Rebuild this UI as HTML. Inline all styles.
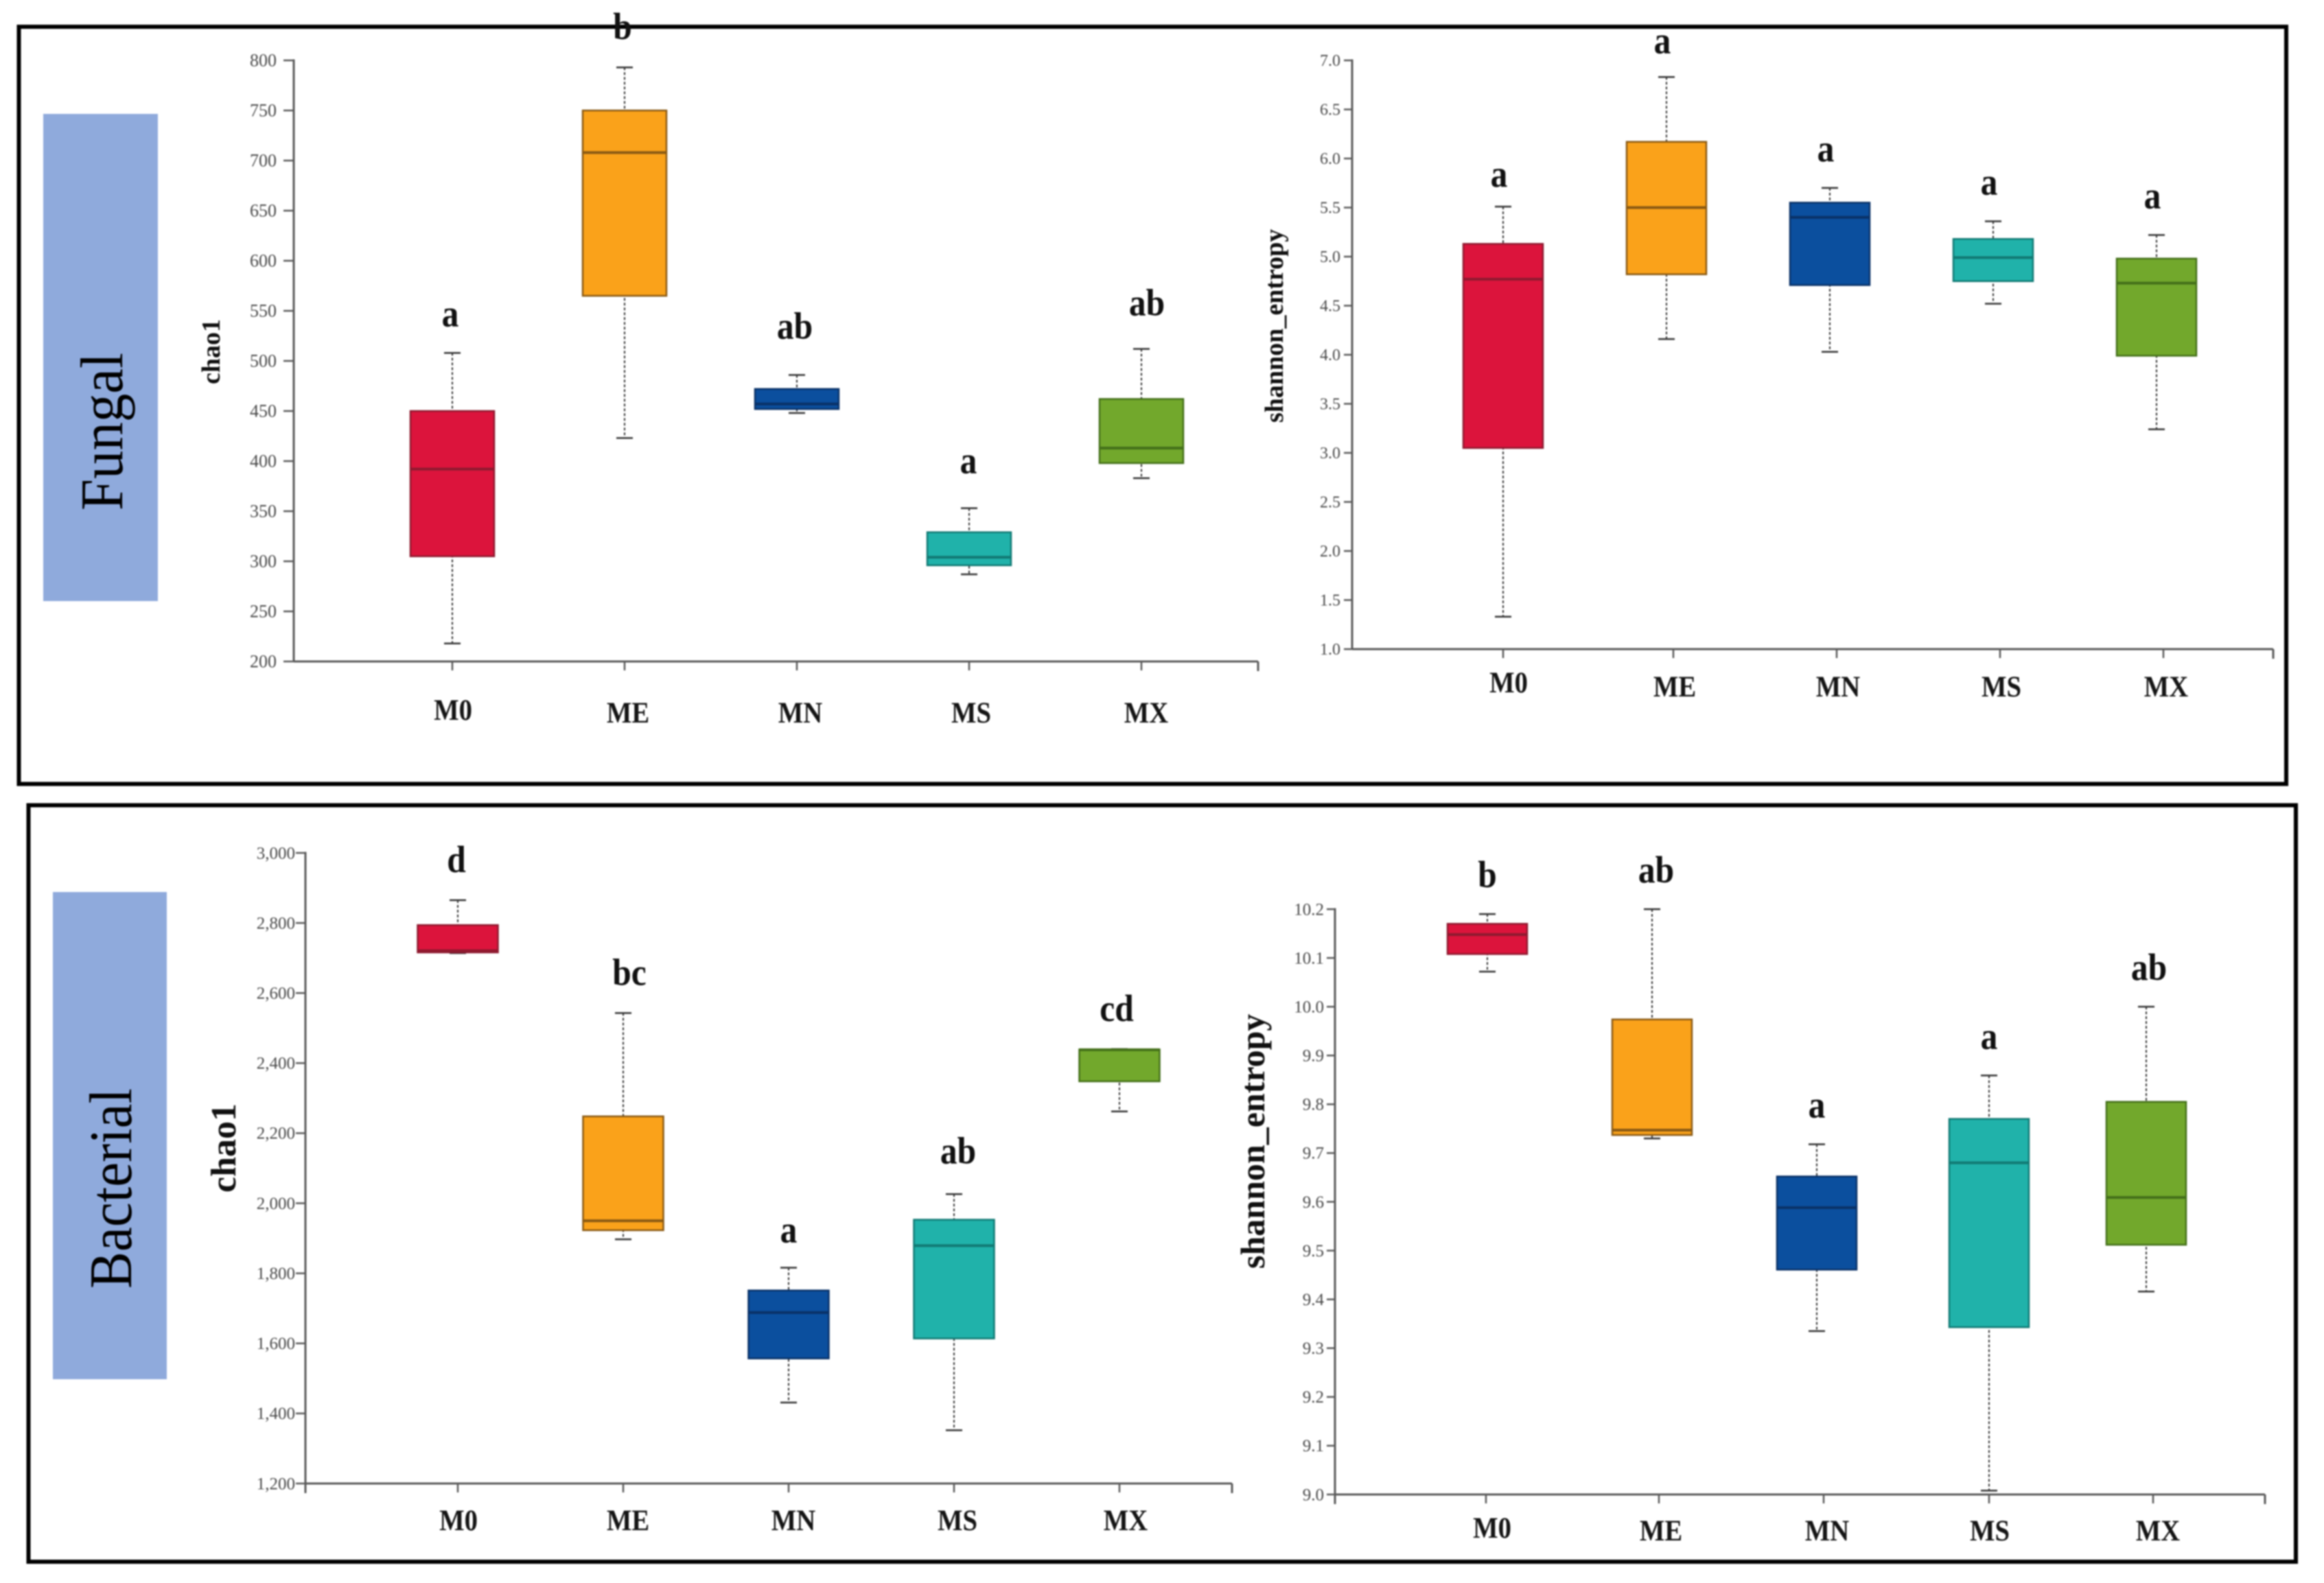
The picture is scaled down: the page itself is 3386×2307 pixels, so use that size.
<!DOCTYPE html>
<html lang="en">
<head>
<meta charset="utf-8">
<title>Fungal and bacterial alpha diversity box plots</title>
<style>
  html, body { margin: 0; padding: 0; background: #fff; }
  body { width: 3386px; height: 2307px; overflow: hidden; }
  svg { display: block; filter: blur(1.1px); }
  text { font-family: "Liberation Serif", serif; }
</style>
</head>
<body>
<svg id="figure" xmlns="http://www.w3.org/2000/svg" width="3386" height="2307" viewBox="0 0 3386 2307">
  <rect x="0" y="0" width="3386" height="2307" fill="#ffffff"/>
  <rect x="27.5" y="39" width="3303.5" height="1103.5" fill="none" stroke="#000" stroke-width="6"/>
  <rect x="41.5" y="1173.5" width="3303.5" height="1102.5" fill="none" stroke="#000" stroke-width="6"/>
  <rect x="63" y="166" width="167" height="710" fill="#8faadc"/>
  <text transform="translate(178,744) rotate(-90)" font-size="88" textLength="230" lengthAdjust="spacingAndGlyphs" fill="#000">Fungal</text>
  <rect x="77" y="1300" width="166" height="710" fill="#8faadc"/>
  <text transform="translate(191,1878) rotate(-90)" font-size="88" textLength="292" lengthAdjust="spacingAndGlyphs" fill="#000">Bacterial</text>
  <text transform="translate(320,560) rotate(-90)" font-size="38" font-weight="bold" fill="#111">chao1</text>
  <text transform="translate(1869,616) rotate(-90)" font-size="38" font-weight="bold" fill="#111">shannon_entropy</text>
  <text transform="translate(343,1738) rotate(-90)" font-size="52" font-weight="bold" fill="#111">chao1</text>
  <text transform="translate(1842,1849) rotate(-90)" font-size="50" font-weight="bold" fill="#111">shannon_entropy</text>
</svg>
<script>
const categories = ['M0', 'ME', 'MN', 'MS', 'MX'];
const boxFill = ['#dc143c', '#faa21a', '#0b4f9e', '#20b2aa', '#72a82c'];
const boxEdge = ['#8f1a30', '#8a5a14', '#0a3268', '#127a74', '#44701a'];

const fungalChaoYTicks = [200, 250, 300, 350, 400, 450, 500, 550, 600, 650, 700, 750, 800];
const fungalChaoYTickLabels = ['200', '250', '300', '350', '400', '450', '500', '550', '600', '650', '700', '750', '800'];
const fungalChaoWhiskerHigh = [508, 793, 486, 353, 512];
const fungalChaoQ3 = [450, 750, 472, 329, 462];
const fungalChaoMedian = [392, 708, 457, 304, 413];
const fungalChaoQ1 = [305, 565, 452, 296, 398];
const fungalChaoWhiskerLow = [218, 423, 448, 287, 383];
const fungalChaoLetters = ['a', 'b', 'ab', 'a', 'ab'];

const fungalShannonYTicks = [1, 1.5, 2, 2.5, 3, 3.5, 4, 4.5, 5, 5.5, 6, 6.5, 7];
const fungalShannonYTickLabels = ['1.0', '1.5', '2.0', '2.5', '3.0', '3.5', '4.0', '4.5', '5.0', '5.5', '6.0', '6.5', '7.0'];
const fungalShannonWhiskerHigh = [5.51, 6.83, 5.70, 5.36, 5.22];
const fungalShannonQ3 = [5.13, 6.17, 5.55, 5.18, 4.98];
const fungalShannonMedian = [4.77, 5.50, 5.40, 4.99, 4.73];
const fungalShannonQ1 = [3.05, 4.82, 4.71, 4.75, 3.99];
const fungalShannonWhiskerLow = [1.33, 4.16, 4.03, 4.52, 3.24];
const fungalShannonLetters = ['a', 'a', 'a', 'a', 'a'];

const bacterialChaoYTicks = [1200, 1400, 1600, 1800, 2000, 2200, 2400, 2600, 2800, 3000];
const bacterialChaoYTickLabels = ['1,200', '1,400', '1,600', '1,800', '2,000', '2,200', '2,400', '2,600', '2,800', '3,000'];
const bacterialChaoWhiskerHigh = [2865, 2543, 1816, 2026, 2440];
const bacterialChaoQ3 = [2794, 2248, 1751, 1953, 2439];
const bacterialChaoMedian = [2721, 1950, 1688, 1879, 2438];
const bacterialChaoQ1 = [2716, 1923, 1557, 1614, 2348];
const bacterialChaoWhiskerLow = [2714, 1897, 1431, 1352, 2262];
const bacterialChaoLetters = ['d', 'bc', 'a', 'ab', 'cd'];

const bacterialShannonYTicks = [9, 9.1, 9.2, 9.3, 9.4, 9.5, 9.6, 9.7, 9.8, 9.9, 10, 10.1, 10.2];
const bacterialShannonYTickLabels = ['9.0', '9.1', '9.2', '9.3', '9.4', '9.5', '9.6', '9.7', '9.8', '9.9', '10.0', '10.1', '10.2'];
const bacterialShannonWhiskerHigh = [10.19, 10.2, 9.718, 9.859, 10.0];
const bacterialShannonQ3 = [10.17, 9.974, 9.652, 9.77, 9.805];
const bacterialShannonMedian = [10.148, 9.747, 9.588, 9.68, 9.609];
const bacterialShannonQ1 = [10.108, 9.737, 9.461, 9.343, 9.512];
const bacterialShannonWhiskerLow = [10.072, 9.73, 9.335, 9.008, 9.416];
const bacterialShannonLetters = ['b', 'ab', 'a', 'a', 'ab'];

const SVG_NS = 'http://www.w3.org/2000/svg';
const figure = document.getElementById('figure');

function make(parent, tag, attrs, content) {
  const el = document.createElementNS(SVG_NS, tag);
  for (const key in attrs) el.setAttribute(key, attrs[key]);
  if (content !== undefined) el.textContent = content;
  parent.appendChild(el);
  return el;
}

function drawBoxChart(prefix, layout, data) {
  const domainMin = Math.min.apply(null, data.yTicks);
  const domainMax = Math.max.apply(null, data.yTicks);
  const yScale = function (v) {
    return layout.bottom - (v - domainMin) / (domainMax - domainMin) * (layout.bottom - layout.top);
  };
  const boxX = function (i) {
    return layout.firstBox + i * layout.step + layout.boxNudge[i];
  };
  const tickX = function (i) {
    return layout.firstBox + i * layout.step + layout.tickNudge[i];
  };

  const chart = make(figure, 'g', {});
  
  

  const yAxis = make(chart, 'line', { x1: layout.axisX, x2: layout.axisX, y1: layout.top - 1.5, y2: layout.bottom + layout.cornerDrop, stroke: '#5a5a5a', 'stroke-width': 3 });
  
  

  const xAxis = make(chart, 'line', { x1: layout.axisX, x2: layout.right, y1: layout.bottom, y2: layout.bottom, stroke: '#5a5a5a', 'stroke-width': 3 });
  
  

  const xEnd = make(chart, 'line', { x1: layout.right, x2: layout.right, y1: layout.bottom, y2: layout.bottom + 14, stroke: '#5a5a5a', 'stroke-width': 3 });
  
  

  data.yTicks.forEach(function (value, i) {
    const y = yScale(value);
    const tick = make(chart, 'line', { x1: layout.axisX - layout.tickLen, x2: layout.axisX, y1: y, y2: y, stroke: '#5a5a5a', 'stroke-width': 2.5 });
    
    
    const label = make(chart, 'text', { x: layout.axisX - layout.labelGap, y: y + layout.yFont * 0.33, 'text-anchor': 'end', 'font-size': layout.yFont, fill: '#4a4a4a' }, data.yTickLabels[i]);
    
    
  });

  categories.forEach(function (category, i) {
    const tx = tickX(i);
    const tick = make(chart, 'line', { x1: tx, x2: tx, y1: layout.bottom, y2: layout.bottom + 13, stroke: '#5a5a5a', 'stroke-width': 2.5 });
    
    
    const catX = tx + layout.catDx + layout.catNudgeX[i];
    const catY = layout.catY + layout.catNudgeY[i];
    const label = make(chart, 'text', { transform: 'translate(' + catX + ',' + catY + ') scale(0.9,1)', 'text-anchor': 'middle', 'font-size': 43, 'font-weight': 'bold', fill: '#151515' }, category);
    
    

    const x = boxX(i);
    const id = prefix + '-' + category.toLowerCase();
    const whisker = make(chart, 'line', { x1: x, x2: x, y1: yScale(data.whiskerHigh[i]), y2: yScale(data.whiskerLow[i]), stroke: '#333', 'stroke-width': 2, 'stroke-dasharray': '4 3' });
    
    

    const capHigh = make(chart, 'line', { x1: x - 12, x2: x + 12, y1: yScale(data.whiskerHigh[i]), y2: yScale(data.whiskerHigh[i]), stroke: '#333', 'stroke-width': 2.5 });
    
    

    const capLow = make(chart, 'line', { x1: x - 12, x2: x + 12, y1: yScale(data.whiskerLow[i]), y2: yScale(data.whiskerLow[i]), stroke: '#333', 'stroke-width': 2.5 });
    
    

    const box = make(chart, 'rect', { x: x - layout.boxW / 2, y: yScale(data.q3[i]), width: layout.boxW, height: yScale(data.q1[i]) - yScale(data.q3[i]), fill: boxFill[i], stroke: boxEdge[i], 'stroke-width': 2.5 });
    
    

    const median = make(chart, 'line', { x1: x - layout.boxW / 2, x2: x + layout.boxW / 2, y1: yScale(data.median[i]), y2: yScale(data.median[i]), stroke: boxEdge[i], 'stroke-width': 4 });
    
    

    const letterX = x + layout.letterDx + layout.letterNudgeX[i];
    const letterY = yScale(data.whiskerHigh[i]) - layout.letterGap + 13 + layout.letterNudgeY[i];
    const letter = make(chart, 'text', { transform: 'translate(' + letterX + ',' + letterY + ') scale(0.9,1)', 'text-anchor': 'middle', 'font-size': 55, 'font-weight': 'bold', fill: '#111' }, data.letters[i]);
    
    
  });
}

drawBoxChart('fungal-chao1',
  { axisX: 428, right: 1833, top: 88, bottom: 964, firstBox: 659, step: 251, boxW: 122, tickLen: 15, labelGap: 25, yFont: 26, catY: 1053, catDx: 3, letterGap: 60, letterDx: -3, cornerDrop: 0, boxNudge: [0, 0, 0, 0, 0], tickNudge: [0, 0, 0, 0, 0], catNudgeX: [-2, 2, 2, 0, 4], catNudgeY: [-4, 0, 0, 0, 0], letterNudgeX: [0, 0, 0, 2, 11], letterNudgeY: [8, 6, -6, -4, -2] },
  { yTicks: fungalChaoYTicks, yTickLabels: fungalChaoYTickLabels, whiskerHigh: fungalChaoWhiskerHigh, q3: fungalChaoQ3, median: fungalChaoMedian, q1: fungalChaoQ1, whiskerLow: fungalChaoWhiskerLow, letters: fungalChaoLetters });

drawBoxChart('fungal-shannon',
  { axisX: 1970, right: 3312, top: 88, bottom: 946, firstBox: 2190, step: 238, boxW: 116, tickLen: 12, labelGap: 17, yFont: 24, catY: 1015, catDx: 2, letterGap: 48, letterDx: -6, cornerDrop: 0, boxNudge: [0, 0, 0, 0, 0], tickNudge: [0, 10, 10, 10, 10], catNudgeX: [6, 0, 0, 0, 2], catNudgeY: [-6, 0, 0, 0, 0], letterNudgeX: [0, 0, 0, 0, 0], letterNudgeY: [6, 0, -4, -4, -4] },
  { yTicks: fungalShannonYTicks, yTickLabels: fungalShannonYTickLabels, whiskerHigh: fungalShannonWhiskerHigh, q3: fungalShannonQ3, median: fungalShannonMedian, q1: fungalShannonQ1, whiskerLow: fungalShannonWhiskerLow, letters: fungalShannonLetters });

drawBoxChart('bacterial-chao1',
  { axisX: 445, right: 1795, top: 1243, bottom: 2162, firstBox: 667, step: 241, boxW: 117, tickLen: 14, labelGap: 15, yFont: 25, catY: 2230, catDx: 5, letterGap: 56, letterDx: 0, cornerDrop: 14, boxNudge: [0, 0, 0, 0, 0], tickNudge: [0, 0, 0, 0, 0], catNudgeX: [-4, 2, 2, 0, 4], catNudgeY: [0, 0, 0, 0, 0], letterNudgeX: [-2, 9, 0, 6, -4], letterNudgeY: [2, 2, 6, -2, 2] },
  { yTicks: bacterialChaoYTicks, yTickLabels: bacterialChaoYTickLabels, whiskerHigh: bacterialChaoWhiskerHigh, q3: bacterialChaoQ3, median: bacterialChaoMedian, q1: bacterialChaoQ1, whiskerLow: bacterialChaoWhiskerLow, letters: bacterialChaoLetters });

drawBoxChart('bacterial-shannon',
  { axisX: 1945, right: 3300, top: 1325, bottom: 2178, firstBox: 2167, step: 240, boxW: 116, tickLen: 12, labelGap: 16, yFont: 25, catY: 2245, catDx: 3, letterGap: 54, letterDx: 0, cornerDrop: 14, boxNudge: [0, 0, 0, 11, 0], tickNudge: [-2, 10, 10, 11, 10], catNudgeX: [6, 0, 2, -2, 4], catNudgeY: [-4, 0, 0, 0, 0], letterNudgeX: [0, 6, 0, 0, 4], letterNudgeY: [2, 2, 2, 2, 2] },
  { yTicks: bacterialShannonYTicks, yTickLabels: bacterialShannonYTickLabels, whiskerHigh: bacterialShannonWhiskerHigh, q3: bacterialShannonQ3, median: bacterialShannonMedian, q1: bacterialShannonQ1, whiskerLow: bacterialShannonWhiskerLow, letters: bacterialShannonLetters });
</script>
</body>
</html>
